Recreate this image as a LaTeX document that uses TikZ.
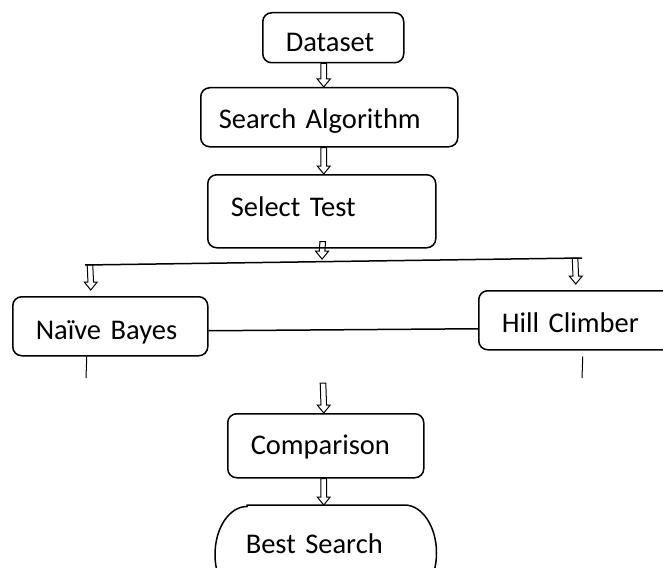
\documentclass[tikz,border=0pt]{standalone}
\usepackage{fontspec}
\setmainfont{Carlito}
\usetikzlibrary{calc}

\begin{document}
\begin{tikzpicture}[x=1pt,y=-1pt,
  box/.style={draw=drawColor,line width=1.5pt,rounded corners=9pt,anchor=north west,align=left,
    inner xsep=23pt,inner ysep=0pt,text height=18.4pt,text depth=0pt,font=\fontsize{28.5}{34}\selectfont},
  flowArrow/.style={draw=drawColor,line width=1pt,line join=miter,to path={
    ($(\tikztostart)+(-2.8,0)$) -- ($(\tikztotarget)+(-2.8,-8)$) -- ++(-3.7,0) -- (\tikztotarget)
    -- ++(6.5,-8) -- ++(-3.7,0) -- ($(\tikztostart)+(2.8,0)$) -- cycle}}]
\definecolor{drawColor}{RGB}{0,0,0}
\definecolor{fillColor}{RGB}{255,255,255}

\path[use as bounding box,fill=fillColor] (0,0) rectangle (663,567);

\clip (0,0) rectangle (663,567);

\node[box,text width=95pt,minimum height=50pt,text height=28pt] (dataset) at (262,12) {Dataset};

\node[box,text width=221pt,inner xsep=18pt,minimum height=59pt,text height=22pt] (search) at (200,87) {Search Algorithm};

\node[box,text width=182pt,minimum height=73pt,text depth=7pt] (select) at (207,174) {Select Test};

\node[box,text width=149pt,minimum height=59pt,text height=26pt] (naive) at (12,296) {Naïve Bayes};

\node[box,text width=190pt,minimum height=59pt,text height=24pt] (hill) at (478,290) {Hill Climber};

\node[box,text width=150pt,minimum height=64pt] (comparison) at (227,413) {Comparison};

\node[box,draw=none,text width=160pt,inner xsep=30pt,minimum height=96pt,text depth=18pt] (best) at (215,505) {Best Search};

\path[draw=drawColor,line width=1.5pt] ([xshift=32pt]best.north west) -- ([xshift=-32pt]best.north east)
  arc[start angle=-90,end angle=90,x radius=32,y radius=48] -- ([xshift=32pt]best.south west)
  arc[start angle=90,end angle=270,x radius=32,y radius=48] -- cycle;

\coordinate (busL) at (85,265);
\coordinate (busR) at (582,258);
\coordinate (split) at ($(busL)!0.477!(busR)$);
\coordinate (dropL) at ($(busL)!0.01!(busR)$);
\coordinate (dropR) at ($(busL)!0.986!(busR)$);
\coordinate (stubL) at (86,378);
\coordinate (stubR) at (582,378);
\coordinate (merge) at (323,383);

\path[draw=drawColor,line width=1.5pt] (busL) -- (busR);

\path[draw=drawColor,line width=1.5pt] ([yshift=-4.5pt]naive.east) -- ([yshift=-8.5pt]hill.west);

\path[draw=drawColor,line width=1pt] ([xshift=-23.5pt]naive.south) -- (stubL);

\path[draw=drawColor,line width=1pt] ([xshift=-14pt,yshift=-6pt]hill.south) -- (stubR);

\path[flowArrow] ([xshift=-9.5pt]dataset.south) to ([xshift=-5.5pt]search.north);

\path[flowArrow] ([xshift=-5.5pt]search.south) to ([xshift=2pt]select.north);

\path[flowArrow] ([xshift=1pt,yshift=7pt]select.south) to ([yshift=2.5pt]split);

\path[flowArrow] (dropL) to ([xshift=-19.5pt,yshift=6pt]naive.north);

\path[flowArrow] (dropR) to ([xshift=-21pt,yshift=6pt]hill.north);

\path[flowArrow] (merge) to ([xshift=-2pt]comparison.north);

\path[flowArrow] ([xshift=-2pt]comparison.south) to ([xshift=-2pt]best.north);
\end{tikzpicture}
\end{document}
